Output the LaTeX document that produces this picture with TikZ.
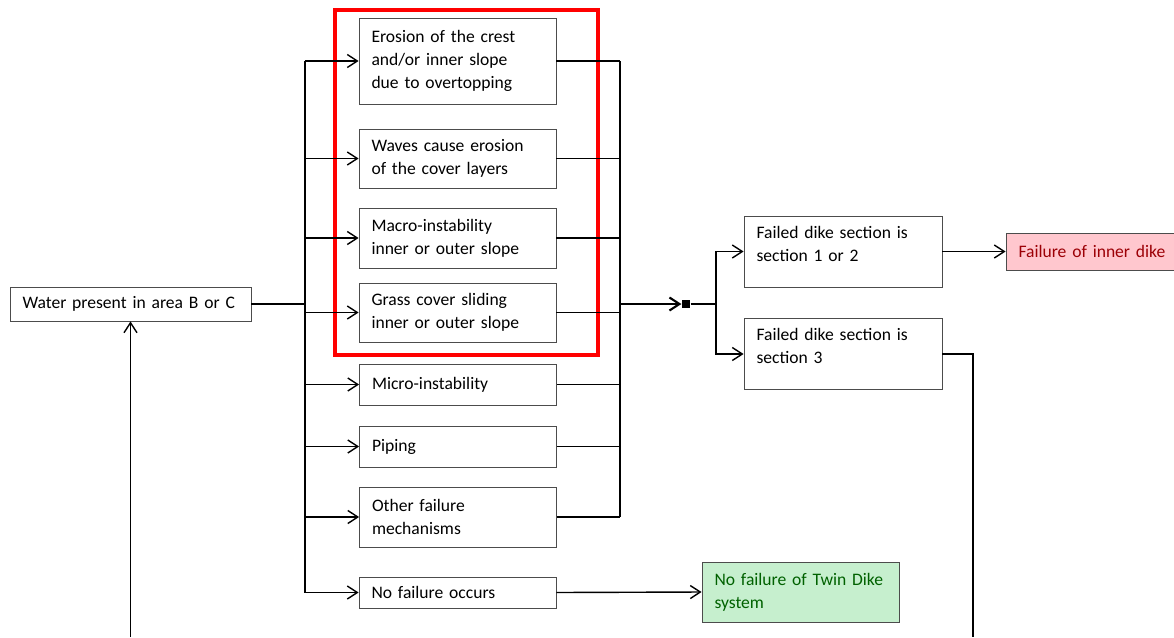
\documentclass[tikz,border=0pt]{standalone}
\usepackage{fontspec}
\setmainfont{Carlito}
\usetikzlibrary{arrows.meta}
\tikzstyle{box} = [rectangle, draw=black!70, line width=0.5pt, align=left, inner xsep=0.25cm, inner ysep=0pt, text width=3.44cm, font=\fontsize{10}{13}\selectfont]
\tikzstyle{bad} = [box, fill={rgb,255:red,255;green,199;blue,206}, text={rgb,255:red,156;green,0;blue,6}]
\tikzstyle{good} = [box, fill={rgb,255:red,198;green,239;blue,206}, text={rgb,255:red,0;green,97;blue,0}]
\tikzstyle{dot} = [rectangle, fill=black, minimum size=0.17cm, inner sep=0pt]
\tikzstyle{line} = [line width=0.8pt]
\tikzstyle{arrow} = [line, -{Straight Barb[length=2mm,width=2.6mm]}]

\begin{document}
\begin{tikzpicture}[x=0.02cm, y=-0.02cm]
    \useasboundingbox (0,0) rectangle (1174,637);
    \node (water) [box, text width=4.32cm, minimum height=0.68cm] at (130.5,304) {Water present in area B or C};
    \node (ero) [box, minimum height=1.72cm] at (457.5,61) {Erosion of the crest\\and/or inner slope\\due to overtopping};
    \node (waves) [box, minimum height=1.18cm] at (457.5,158.5) {Waves cause erosion\\of the cover layers};
    \node (macro) [box, minimum height=1.2cm] at (457.5,238) {Macro-instability\\inner or outer slope};
    \node (grass) [box, minimum height=1.18cm] at (457.5,312.5) {Grass cover sliding\\inner or outer slope};
    \node (micro) [box, minimum height=0.82cm] at (458,384.5) {Micro-instability};
    \node (piping) [box, minimum height=0.82cm] at (458,446.5) {Piping};
    \node (other) [box, minimum height=1.2cm] at (458,517) {Other failure\\mechanisms};
    \node (nofail) [box, minimum height=0.62cm] at (457.5,592.5) {No failure occurs};
    \node (f12) [box, text width=3.46cm, minimum height=1.42cm] at (843,251.5) {Failed dike section is\\section 1 or 2\\[-4pt]\mbox{}};
    \node (f3) [box, text width=3.46cm, minimum height=1.42cm] at (843,354) {Failed dike section is\\section 3\\[-4pt]\mbox{}};
    \node (inner) [bad, text width=3.02cm, minimum height=0.74cm] at (1094,251.5) {Failure of inner dike};
    \node (twin) [good, minimum height=1.2cm] at (800.5,592) {No failure of Twin Dike\\system};
    \draw [red, line width=2.3pt] (335,10) rectangle (598,355);

    \coordinate (lbus) at (305,304);
    \coordinate (rbus) at (620,304);
    \coordinate (split) at (716,304);
    \coordinate (down) at (973,637);
    \coordinate (up) at (130.5,637);
    \node (junc) [dot] at (686,304) {};

    \draw [line] (water.east) -- (lbus);
    \draw [line] (lbus |- ero.west) -- (lbus |- nofail.west);
    \draw [arrow] (lbus |- ero.west) -- (ero.west);
    \draw [arrow] (lbus |- waves.west) -- (waves.west);
    \draw [arrow] (lbus |- macro.west) -- (macro.west);
    \draw [arrow] (lbus |- grass.west) -- (grass.west);
    \draw [arrow] (lbus |- micro.west) -- (micro.west);
    \draw [arrow] (lbus |- piping.west) -- (piping.west);
    \draw [arrow] (lbus |- other.west) -- (other.west);
    \draw [arrow] (lbus |- nofail.west) -- (nofail.west);
    \draw [line] (ero.east) -- (rbus |- ero.east);
    \draw [line] (waves.east) -- (rbus |- waves.east);
    \draw [line] (macro.east) -- (rbus |- macro.east);
    \draw [line] (grass.east) -- (rbus |- grass.east);
    \draw [line] (micro.east) -- (rbus |- micro.east);
    \draw [line] (piping.east) -- (rbus |- piping.east);
    \draw [line] (other.east) -- (rbus |- other.east);
    \draw [line] (rbus |- ero.east) -- (rbus |- other.east);
    \draw [arrow, line width=1.2pt] (rbus) -- (junc.west);
    \draw [line] (junc.east) -- (split);
    \draw [arrow] (split) |- (f12.west);
    \draw [arrow] (split) |- (f3.west);
    \draw [arrow] (f12.east) -- (inner.west);
    \draw [arrow] (nofail.east) -- (twin.west);
    \draw [line] (f3.east) -| (down);
    \draw [arrow] (up) -- (water.south);
\end{tikzpicture}
\end{document}
